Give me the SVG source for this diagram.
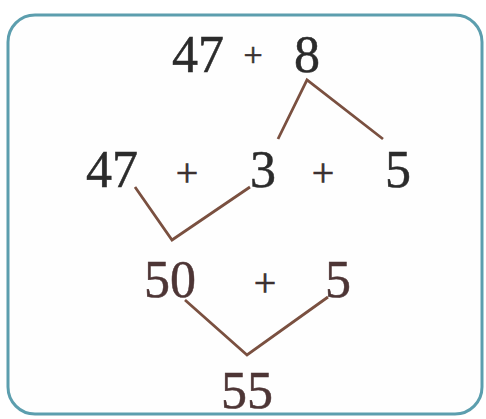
<svg xmlns="http://www.w3.org/2000/svg" width="486" height="419" viewBox="0 0 486 419">
<style>
.n{font-family:"Liberation Serif","Times New Roman",serif;font-size:52px;text-anchor:middle;fill:#2b2b2b;stroke:#2b2b2b;stroke-width:0.5}
.r{fill:#4d3535;stroke:#4d3535}
.p{font-family:"Liberation Serif","Times New Roman",serif;text-anchor:middle;fill:#3a3030;stroke:#3a3030;stroke-width:0.6}
.c{fill:none;stroke:#7a5040;stroke-width:2.8;stroke-linejoin:miter}
</style>
<rect x="8" y="15" width="474" height="399" rx="27" ry="27" fill="#fefefe" stroke="#5c9eae" stroke-width="3"/>
<g id="connectors">
<polyline class="c" points="278,139 307,80 383,139"/>
<polyline class="c" points="135,187 172,240 250,187"/>
<polyline class="c" points="185,300 247,355 328,297"/>
</g>
<g id="top-47"><text class="n" x="198" y="72">47</text></g>
<g id="top-plus"><text class="p" x="253" y="66" font-size="34">+</text></g>
<g id="top-8"><text class="n" x="307" y="72">8</text></g>
<g id="r2-47"><text class="n" x="112" y="187">47</text></g>
<g id="r2-plus1"><text class="p" x="187" y="186" font-size="40">+</text></g>
<g id="r2-3"><text class="n" x="263" y="187">3</text></g>
<g id="r2-plus2"><text class="p" x="323" y="186" font-size="40">+</text></g>
<g id="r2-5"><text class="n" x="398" y="187">5</text></g>
<g id="r3-50"><text class="n r" x="170" y="297">50</text></g>
<g id="r3-plus"><text class="p" x="265" y="296" font-size="40">+</text></g>
<g id="r3-5"><text class="n r" x="338" y="297">5</text></g>
<g id="r4-55"><text class="n r" x="247" y="408">55</text></g>
</svg>
